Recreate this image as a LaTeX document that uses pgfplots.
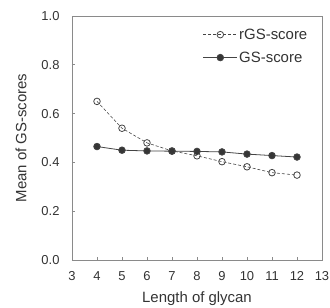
\documentclass[border=0pt]{standalone}
\usepackage{pgfplots}
\pgfplotsset{compat=1.18}
\usepackage{fontspec}
\setmainfont{Liberation Sans}
\definecolor{axgray}{HTML}{8A8A8A}
\definecolor{txt}{HTML}{333333}
\definecolor{dl}{HTML}{444444}
\begin{document}
\begin{tikzpicture}
\useasboundingbox (-72bp,-48bp) rectangle (258bp,260bp);
\begin{axis}[
  at={(0,0)}, anchor=south west,
  width=250bp, height=244bp, scale only axis,
  xmin=3, xmax=13, ymin=0, ymax=1.0,
  xtick={3,4,...,13}, ytick={0,0.2,...,1.0},
  yticklabel style={/pgf/number format/fixed,/pgf/number format/fixed zerofill,/pgf/number format/precision=1, xshift=-9bp},
  xticklabel style={yshift=-8bp},
  /pgf/number format/assume math mode=true,
  tick align=inside, tick pos=left,
  major tick length=3.5bp,
  axis line style={axgray, line width=1pt},
  every tick/.style={axgray, line width=0.8pt},
  tick label style={font=\fontsize{13}{15}\selectfont, text=txt},
  label style={font=\fontsize{15}{17}\selectfont, text=txt},
  xlabel={Length of glycan},
  xlabel style={at={(axis description cs:0.5,-0.176)}, anchor=base},
  ylabel={Mean of GS-scores},
  ylabel style={at={(axis description cs:-0.204,0.5)}, anchor=center, rotate=0},
  legend style={draw=none, fill=none, at={(axis description cs:1,1)}, anchor=north east, xshift=-13bp, yshift=-11bp, inner sep=0pt, font=\fontsize{15}{17}\selectfont, text=txt, row sep=8bp, nodes={inner sep=1.5bp}},
  legend cell align=left,
  legend image code/.code={\draw[mark repeat=2,mark phase=2,#1] plot coordinates {(0bp,0bp) (17bp,0bp) (34bp,0bp)};},
]
\addplot[dl, densely dashed, line width=0.6pt, mark=o, mark size=3.3bp, mark options={solid, fill=white, line width=0.8pt}]
coordinates {(4,0.65) (5,0.54) (6,0.48) (7,0.447) (8,0.427) (9,0.403) (10,0.382) (11,0.358) (12,0.348)};
\addlegendentry{rGS-score}
\addplot[dl, line width=0.8pt, mark=*, mark size=3.3bp, mark options={fill=dl!80!black}]
coordinates {(4,0.465) (5,0.450) (6,0.447) (7,0.446) (8,0.445) (9,0.443) (10,0.434) (11,0.428) (12,0.422)};
\addlegendentry{GS-score}
\end{axis}
\end{tikzpicture}
\end{document}
